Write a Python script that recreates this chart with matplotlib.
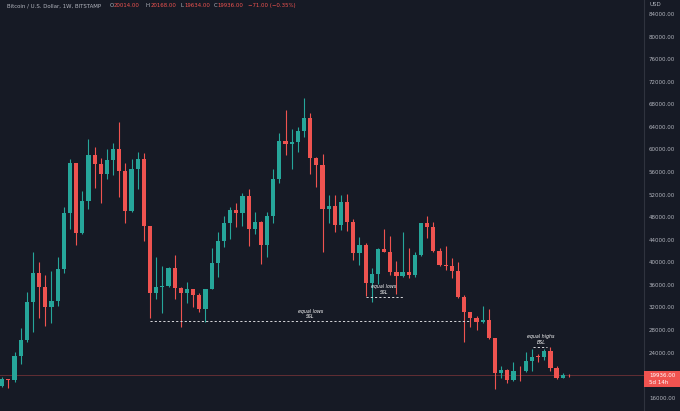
import numpy as np
import matplotlib
matplotlib.use("Agg")
import matplotlib.pyplot as plt
from matplotlib.patches import Rectangle

# weekly BTCUSD candles (Bitstamp)
opens = [18070, 19250, 19070, 23390, 26220, 33015, 38155, 35670, 32130, 33130,
         38800, 48670, 57530, 45130, 50920, 59010, 57360, 55640, 58120, 60010,
         56170, 49080, 56590, 58300, 46430, 34610, 35560, 35790, 38920, 35500,
         34610, 35200, 34200, 31660, 35320, 39810, 43770, 47020, 49260, 48670,
         51740, 45890, 47190, 43060, 48200, 54760, 61490, 60900, 61370, 63320,
         65510, 58540, 57240, 49380, 50030, 46600, 50740, 47190, 41700, 43060,
         36260, 37860, 42350, 41880, 38210, 37620, 38300, 37800, 41290, 46900,
         46310, 42000, 39510, 39400, 38450, 33900, 31130, 30060, 29350, 29770,
         26520, 20430, 20900, 19130, 20790, 20650, 22560, 23300, 23180, 24270,
         21320, 19430, 20014]
highs = [19600, 19300, 24150, 28290, 34670, 41880, 39990, 37740, 38450, 40990,
         49730, 58240, 57600, 52630, 61790, 60490, 58420, 60010, 61200, 64920,
         57530, 58360, 59480, 59400, 46500, 40870, 39400, 39200, 41290, 35550,
         36560, 35350, 34600, 35350, 42590, 45360, 48200, 49850, 50560, 52220,
         52930, 48850, 47300, 48970, 56470, 62850, 66990, 63560, 64030, 69050,
         66400, 58700, 59190, 51920, 51920, 51920, 52040, 47610, 44420, 43350,
         39040, 42470, 45840, 44650, 40220, 45300, 42590, 41880, 47000, 48200,
         47190, 42470, 42940, 40810, 40100, 34200, 31200, 30480, 32310, 31720,
         26600, 21670, 21000, 22380, 21610, 24150, 24630, 23740, 24570, 25040,
         21600, 20300, 20168]
lows = [17950, 17650, 18830, 21910, 25920, 27700, 30060, 28760, 29170, 32300,
        38040, 45840, 43060, 45000, 49380, 53220, 50440, 54820, 55470, 51630,
        47020, 48850, 52930, 43770, 30060, 33490, 30950, 35600, 33430, 28580,
        32720, 32130, 31120, 29470, 35200, 37450, 42760, 44060, 46310, 46490,
        42940, 45010, 39630, 40990, 46900, 53990, 59010, 56470, 59600, 62260,
        55580, 53400, 41880, 46900, 45420, 45720, 45600, 40400, 39510, 34020,
        33020, 36200, 41760, 37740, 34370, 37450, 37270, 37400, 41100, 44240,
        41880, 39400, 38630, 37270, 33730, 25800, 28590, 27990, 29180, 26400,
        17540, 19550, 18660, 18950, 18950, 20530, 20650, 22380, 22680, 20730,
        19300, 19400, 19634]
closes = [19250, 19070, 23390, 26220, 33015, 38155, 35670, 32130, 33130, 38800,
          48670, 57530, 45130, 50920, 59010, 57360, 55640, 58120, 60010, 56170,
          49080, 56590, 58300, 46430, 34610, 35560, 35790, 38920, 35500, 34610,
          35200, 34200, 31660, 35320, 39810, 43770, 47020, 49260, 48670, 51740,
          45890, 47190, 43060, 48200, 54760, 61490, 60900, 61370, 63320, 65510,
          58540, 57240, 49380, 50030, 46600, 50740, 47190, 41700, 43060, 36260,
          37860, 42350, 41880, 38210, 37620, 38300, 37800, 41290, 46900, 46310,
          42000, 39510, 39400, 38450, 33900, 31130, 30060, 29350, 29770, 26520,
          20430, 20900, 19130, 20790, 20650, 22560, 23270, 23180, 24270, 21320,
          19430, 20007, 19936]

# liquidity levels: (first week, last week, price, label, label week)
levels = [(24, 76, 29600, "equal lows\nSSL", 50),
          (59, 65, 33900, "equal lows\nSSL", 62),
          (86.1, 88.4, 25035, "equal highs\nBSL", 87.5)]

price_ticks = np.arange(16000, 84001, 4000)

bg = "#161a25"
up_col = "#26a69a"
down_col = "#ef5350"
txt_col = "#b2b5be"

o = np.array(opens, float)
h = np.array(highs, float)
l = np.array(lows, float)
c = np.array(closes, float)
x = np.arange(len(o))
cols = np.where(c >= o, up_col, down_col)

W, H = 680, 411
fig = plt.figure(figsize=(W / 100, H / 100), dpi=100, facecolor=bg)
ax = fig.add_axes([0, 0, 644 / W, 1])
ax.set_facecolor(bg)

ax.vlines(x, l, h, colors=cols, lw=0.8, zorder=2)
body = np.maximum(np.abs(c - o), 160)
ax.bar(x, body, bottom=np.minimum(o, c), width=0.68, color=cols, lw=0, zorder=3)

# last price line
ax.axhline(c[-1], color=down_col, alpha=0.35, lw=0.7, zorder=1)

for x0, x1, p, lab, xl in levels:
    ax.hlines(p, x0, x1, colors="#d8d8dc", lw=0.7, linestyles=(0, (2.2, 2.2)), zorder=4)
    ax.annotate(lab, (xl, p), xytext=(0, 1.5), textcoords="offset points",
                ha="center", va="bottom", fontsize=3.4, style="italic",
                color="white", linespacing=1.05, zorder=5)

ax.set_xlim(-0.357, 104.19)
ax.set_ylim(13640, 86481)
ax.set_xticks([])
ax.yaxis.tick_right()
ax.set_yticks(price_ticks)
ax.set_yticklabels(["%.2f" % t for t in price_ticks])
ax.tick_params(axis="y", length=0, pad=3.6, labelsize=4.0, labelcolor=txt_col)
for s in ["top", "left", "bottom"]:
    ax.spines[s].set_visible(False)
ax.spines["right"].set_color("#2f333e")
ax.spines["right"].set_linewidth(0.8)

# price box on the scale
ytr = ax.transData.transform((0, c[-1]))[1]
box = Rectangle((644 / W, (ytr - 12) / H), 36 / W, 16 / H, transform=fig.transFigure,
                facecolor="#f05350", edgecolor="none", zorder=2)
fig.add_artist(box)
fig.text(649 / W, ytr / H, "%.2f" % c[-1], fontsize=4.0, color="white",
         va="center", ha="left", zorder=7)
fig.text(649 / W, (ytr - 7.5) / H, "5d 14h", fontsize=4.0, color="white",
         va="center", ha="left", zorder=7)
fig.text(649 / W, 1 - 4 / H, "USD", fontsize=4.0, color=txt_col, va="center", ha="left")

# header
yh = 1 - 5.5 / H
fig.text(6.7 / W, yh, "Bitcoin / U.S. Dollar, 1W, BITSTAMP", fontsize=3.9, color=txt_col, va="center")
chg = c[-1] - c[-2]
parts = [(109.5, "O", txt_col), (113.5, "%.2f" % o[-1], down_col),
         (146, "H", txt_col), (150.5, "%.2f" % h[-1], down_col),
         (180.5, "L", txt_col), (184, "%.2f" % l[-1], down_col),
         (213.5, "C", txt_col), (217.5, "%.2f" % c[-1], down_col),
         (248, "\u2212%.2f (\u2212%.2f%%)" % (abs(chg), abs(chg) / c[-2] * 100), down_col)]
for px, s, col in parts:
    fig.text(px / W, yh, s, fontsize=3.9, color=col, va="center")

fig.savefig("out.png", dpi=100, facecolor=bg)
